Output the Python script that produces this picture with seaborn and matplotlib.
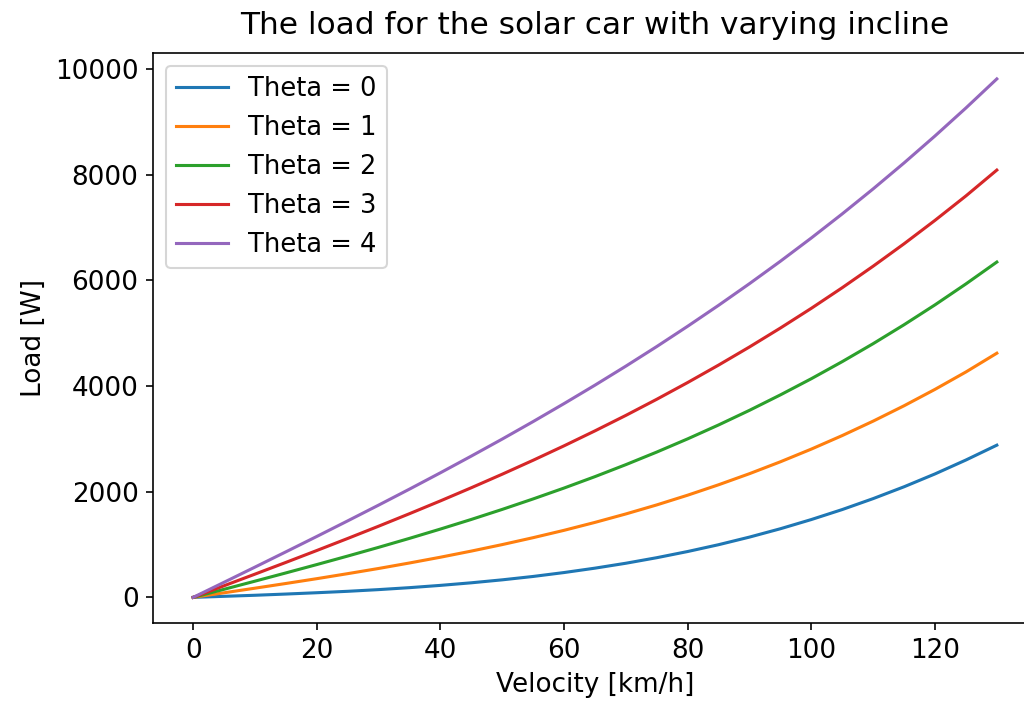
import matplotlib
matplotlib.use("Agg")
import matplotlib.pyplot as plt
import pandas as pd
import seaborn as sns

# Velocity samples [km/h] and the power load [W] for each incline angle [deg]
velocity = [0, 5, 10, 15, 20, 25, 30, 35, 40, 45, 50, 55, 60, 65, 70,
            75, 80, 85, 90, 95, 100, 105, 110, 115, 120, 125, 130]
load_theta0 = [0, 20, 40, 63, 88, 115, 147, 184, 227, 276, 332, 396, 470, 553,
               646, 751, 868, 997, 1141, 1299, 1473, 1662, 1869, 2093, 2336,
               2599, 2880]
load_theta1 = [0, 87, 174, 263, 354, 449, 547, 651, 760, 876, 999, 1130, 1269,
               1419, 1579, 1750, 1934, 2131, 2341, 2566, 2806, 3062, 3335,
               3626, 3936, 4265, 4620]
load_theta2 = [0, 153, 307, 463, 621, 782, 947, 1117, 1293, 1475, 1665, 1863,
               2069, 2285, 2512, 2750, 3000, 3263, 3540, 3832, 4138, 4461,
               4801, 5159, 5535, 5931, 6345]
load_theta3 = [0, 220, 440, 662, 887, 1115, 1347, 1584, 1826, 2075, 2331, 2595,
               2868, 3151, 3444, 3749, 4066, 4396, 4739, 5097, 5470, 5860,
               6267, 6691, 7134, 7596, 8085]
load_theta4 = [0, 286, 573, 862, 1153, 1448, 1746, 2049, 2358, 2674, 2996,
               3327, 3667, 4016, 4376, 4747, 5131, 5527, 5937, 6361, 6801,
               7257, 7730, 8221, 8731, 9260, 9810]

thetas = [0, 1, 2, 3, 4]
loads = [load_theta0, load_theta1, load_theta2, load_theta3, load_theta4]

frames = []
for theta, load in zip(thetas, loads):
    frames.append(pd.DataFrame({"velocity": velocity, "load": load,
                                "series": f"Theta = {theta}"}))
data = pd.concat(frames, ignore_index=True)

palette = sns.color_palette("tab10", len(thetas))

fig = plt.figure(figsize=(1024 / 148, 709 / 148), dpi=148)
ax = fig.add_axes([153 / 1024, (709 - 623.3) / 709, 884 / 1024, 570.3 / 709])

for color, (name, grp) in zip(palette, data.groupby("series", sort=False)):
    sns.lineplot(data=grp, x="velocity", y="load", color=color, label=name,
                 ax=ax, linewidth=1.5)

ax.spines["right"].set_visible(False)
ax.tick_params(labelsize=12.8)
ax.set_title("The load for the solar car with varying incline", fontsize=15.2,
             pad=9)
ax.set_xlabel("Velocity [km/h]", fontsize=12.8)
ax.set_ylabel("Load [W]", fontsize=12.8)
ax.legend(loc="upper left", fontsize=12.5)

fig.savefig("out.png", dpi=148)
